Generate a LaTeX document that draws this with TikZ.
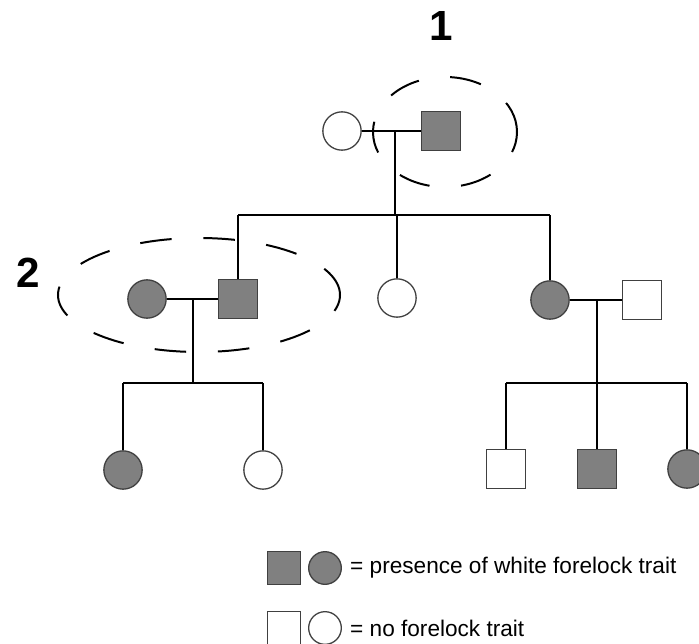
\documentclass[tikz,border=0pt]{standalone}
\usepackage{fontspec}
\setmainfont{Liberation Sans}
\usetikzlibrary{shapes.geometric}

\definecolor{affected}{RGB}{128,128,128}

\begin{document}
\begin{tikzpicture}[x=0.03cm,y=-0.03cm,
  male/.style={rectangle,draw=black!75,line width=1.1pt,minimum size=1.15cm,inner sep=0pt},
  female/.style={circle,draw=black!75,line width=1.1pt,minimum size=1.15cm,inner sep=0pt},
  trait/.style={fill=affected},
  none/.style={fill=white},
  key/.style={minimum size=0.98cm},
  link/.style={line width=1.6pt},
  ring/.style={line width=1.7pt,dash pattern=on 0.95cm off 0.95cm},
  num/.style={font=\bfseries\fontsize{36}{40}\selectfont},
  legend/.style={font=\fontsize{19.3}{23}\selectfont,anchor=west,inner sep=0pt}]

\useasboundingbox[clip] (0,0) rectangle (699,644);

% first generation
\node[female,none] (gmother) at (342,131) {};
\node[male,trait] (gfather) at (441,131) {};

% second generation
\node[female,trait] (wifeL) at (147,299) {};
\node[male,trait] (sonL) at (238,299) {};
\node[female,none] (daughter) at (397,298) {};
\node[female,trait] (daughterR) at (550,300) {};
\node[male,none] (husbandR) at (642,300) {};

% third generation
\node[female,trait] (childA) at (123,470) {};
\node[female,none] (childB) at (263,470) {};
\node[male,none] (childC) at (506,469) {};
\node[male,trait] (childD) at (597,469) {};
\node[female,trait] (childE) at (687,469) {};

% helper points on the lines of descent
\coordinate (top) at (395,131);
\coordinate (sibsA) at (395,215);
\coordinate (left) at (193,299);
\coordinate (sibsB) at (193,383);
\coordinate (right) at (597,300);
\coordinate (sibsC) at (597,383);

% marriages and children
\draw[link] (gmother) -- (gfather);
\draw[link] (top) -- (sibsA);
\draw[link] (sonL.north |- sibsA) -- (daughterR.north |- sibsA);
\draw[link] (sonL.north |- sibsA) -- (sonL);
\draw[link] (daughter.north |- sibsA) -- (daughter);
\draw[link] (daughterR.north |- sibsA) -- (daughterR);

\draw[link] (wifeL) -- (sonL);
\draw[link] (left) -- (sibsB);
\draw[link] (childA.north |- sibsB) -- (childB.north |- sibsB);
\draw[link] (childA.north |- sibsB) -- (childA);
\draw[link] (childB.north |- sibsB) -- (childB);

\draw[link] (daughterR) -- (husbandR);
\draw[link] (right) -- (sibsC);
\draw[link] (childC.north |- sibsC) -- (childE.north |- sibsC);
\draw[link] (childC.north |- sibsC) -- (childC);
\draw[link] (childD.north |- sibsC) -- (childD);
\draw[link] (childE.north |- sibsC) -- (childE);

% circled couples
\draw[ring] (445,132) ellipse [x radius=2.16cm,y radius=1.65cm];
\draw[ring] (199,295) ellipse [x radius=4.23cm,y radius=1.71cm];
\node[num] (one) at (441,26) {1};
\node[num] (two) at (28,273) {2};

% legend
\node[male,trait,key] (keyM) at (284,568) {};
\node[female,trait,key] (keyF) at (325,568) {};
\node[legend] (keyA) at (350,568) {= presence of white forelock trait};
\node[male,none,key] (keyM2) at (284,628) {};
\node[female,none,key] (keyF2) at (325,628) {};
\node[legend] (keyB) at (350,628) {= no forelock trait};

\end{tikzpicture}
\end{document}
